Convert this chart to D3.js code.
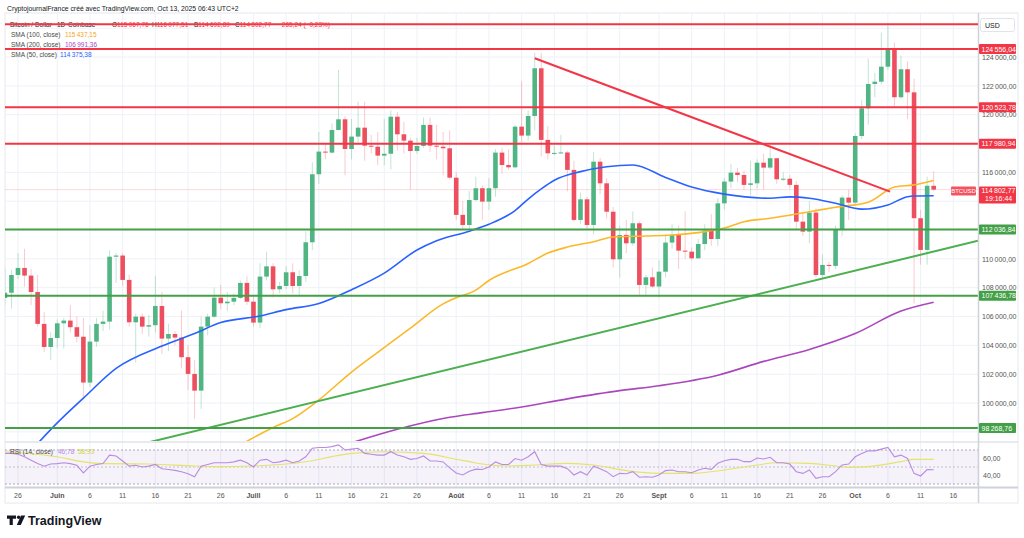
<!DOCTYPE html>
<html><head><meta charset="utf-8">
<script src="https://cdn.jsdelivr.net/npm/d3@7"></script>
<style>
body{margin:0;background:#fff;}
svg{display:block;font-family:"Liberation Sans",Arial,sans-serif;}
</style></head><body>
<svg id="c" width="1024" height="538"></svg>
<script>
// ---------------- DATA ----------------
const startDate = "2025-05-24";
const endDate = "2025-10-13";
const open = [107290,107650,108880,109370,108840,107700,105490,103890,104510,105530,105720,105260,104600,101420,104260,105490,105650,110150,110230,108540,105600,105990,105300,105400,106730,104470,104790,104540,103180,102020,100860,105300,105990,107310,106920,107030,107290,108330,107030,105580,108770,109480,107890,108120,109070,108120,108810,111150,115870,117440,117370,118940,119680,117620,118480,119100,117850,117780,117160,117290,119860,118640,118200,117480,117830,119290,117850,117780,117670,115630,113050,112350,114080,114900,113970,114900,117370,116510,116350,119170,118550,119910,123220,118250,117320,117350,117380,116170,112700,114130,112350,116740,115240,113270,109970,111660,111080,112470,108190,108720,108080,109110,111130,111660,110570,110500,110040,111030,111960,111380,113850,115360,115980,115820,115130,115240,116670,116330,116980,115520,115560,115130,112580,111890,113210,108880,109580,109510,112050,114250,113900,118520,120440,122130,122290,123330,124540,121210,123150,121550,112820,110620,115067.76];
const high = [109400,109250,110400,110690,109300,108900,106300,104900,105800,105900,106800,106000,105900,105400,105900,106400,110600,110400,110400,108900,106200,106200,106100,108800,107700,105500,105000,106400,104000,103000,106000,106200,108000,108200,107700,107600,108500,108800,107500,109700,110500,109700,108400,109500,109700,109200,111900,116700,118800,118000,119400,123100,119900,119700,120900,120900,118600,118800,119700,120300,120200,119500,118400,118400,119800,119800,119300,118800,118900,116000,114000,114700,115700,115100,115600,117600,117700,117600,119300,122300,120300,124300,124300,119200,117900,118600,117500,116800,114600,114300,117400,117000,115600,113600,112300,112700,113300,112600,108900,109400,109900,111700,112400,112300,113300,110800,111400,112400,113100,114200,115600,116600,116300,116100,116800,116900,117300,117900,117000,116000,115800,115400,113200,114000,113500,110300,109800,112300,114400,114800,118700,121000,123900,122900,125700,126200,125000,124100,123700,122500,113400,115700,116077.51];
const low = [106800,106550,108600,108070,106800,105300,103550,103000,103800,103800,104900,104200,100300,101100,103900,105000,105100,108330,108100,105300,102800,104800,104600,104900,103400,103600,104000,102400,100900,98900,99600,104700,105900,106500,106400,106800,107200,106800,105300,105200,108500,107300,107600,107900,107600,107500,108400,110600,115200,116900,117300,118900,115800,116900,117900,116800,117300,116500,116500,116200,117500,117300,114800,117300,117700,117400,116900,115800,115500,112700,112000,112000,114000,112700,113400,114300,115900,116200,116300,118100,118200,118900,117100,116900,117200,117300,114700,112600,112400,112100,111700,114500,112800,109400,108700,110400,110900,107500,107400,108000,107300,108700,110700,109300,110000,109900,110000,110600,110900,110900,113400,114900,115300,114800,114400,114900,114800,116200,115200,115400,114900,112000,111600,111100,108700,108600,109100,109300,111600,112700,113800,118300,119300,121200,122100,123100,120600,121100,119700,106900,109600,109600,114692.89];
const close = [107650,108880,109370,108840,107700,105490,103890,104510,105530,105720,105260,104600,101420,104260,105490,105650,110150,110230,108540,105600,105990,105300,105400,106730,104470,104790,104540,103180,102020,100860,105300,105990,107310,106920,107030,107290,108330,107030,105580,108770,109480,107890,108120,109070,108120,108810,111150,115870,117440,117370,118940,119680,117620,118480,119100,117850,117780,117160,117290,119860,118640,118200,117480,117830,119290,117850,117780,117670,115630,113050,112350,114080,114900,113970,114900,117370,116510,116350,119170,118550,119910,123220,118250,117320,117350,117380,116170,112700,114130,112350,116740,115240,113270,109970,111660,111080,112470,108190,108720,108080,109110,111130,111660,110570,110500,110040,111030,111960,111380,113850,115360,115980,115820,115130,115240,116670,116330,116980,115520,115560,115130,112580,111890,113210,108880,109580,109510,112050,114250,113900,118520,120440,122130,122290,123330,124540,121210,123150,121550,112820,110620,115068.01,114802.77];
const rsi = [66,66,65,62,58,54,51,53.5,54,55,54,52,43,51,53,54,64,63,57,51,52,50,51,53,48,47,46,44.5,42,38.6,51,53,55,55,55,56,58,55,50,58,59,55,56,58,55,57,62,72,73,73,74,76,70,71,72,66,65,64,64,68,64,62,59,60,63,57,57,56,49,43,40.6,45,47.5,47,50,56,53,53,60,58,62,68,53,51,51,51,48,40.6,44.5,40.6,51,48,44.5,38.6,42.5,42,44.5,38,38.6,38,40.6,45.7,46.5,44.5,44.5,43.3,46.5,48.5,47.3,54.3,57.4,59,59,56.3,56.3,60.6,59.4,61.4,55,55,53.5,44.5,42.5,46.5,36.7,38.6,38.6,44.5,52.4,53.5,62,66,69,69,71,73,62,64,60,42.5,39.4,47,46.78];
const rsiMA = [["2025-05-24",68],["2025-06-01",62],["2025-06-05",56],["2025-06-08",54],["2025-06-15",53.5],["2025-06-22",51.2],["2025-06-26",50.4],["2025-07-01",51.2],["2025-07-06",53.5],["2025-07-10",57.4],["2025-07-13",62.2],["2025-07-16",66],["2025-07-21",68],["2025-07-27",66],["2025-07-29",64],["2025-07-31",60.6],["2025-08-03",56.3],["2025-08-05",53.5],["2025-08-09",51.2],["2025-08-13",52.4],["2025-08-18",54.3],["2025-08-22",52.4],["2025-08-27",45.7],["2025-09-01",42.5],["2025-09-06",42.5],["2025-09-11",46.5],["2025-09-16",52.4],["2025-09-19",55],["2025-09-24",54.3],["2025-09-28",51.2],["2025-09-30",49.6],["2025-10-03",50.4],["2025-10-08",56.3],["2025-10-10",59],["2025-10-13",58.93]];
const sma50 = [["2025-05-28",96700],["2025-06-01",98620],["2025-06-05",100340],["2025-06-10",102400],["2025-06-17",103950],["2025-06-22",104820],["2025-06-26",105580],["2025-07-02",106040],["2025-07-06",106480],["2025-07-11",106900],["2025-07-16",107860],["2025-07-21",109010],["2025-07-26",110617],["2025-07-29",111262],["2025-08-03",111920],["2025-08-06",112400],["2025-08-10",113350],["2025-08-12",114150],["2025-08-14",114850],["2025-08-16",115450],["2025-08-20",116050],["2025-08-24",116394],["2025-08-28",116512],["2025-09-02",115650],["2025-09-06",114980],["2025-09-11",114490],["2025-09-18",114202],["2025-09-21",114300],["2025-09-24",114202],["2025-09-28",113856],["2025-10-02",113450],["2025-10-06",113740],["2025-10-09",114313],["2025-10-10",114362],["2025-10-13",114375.38]];
const sma100 = [["2025-06-29",97100],["2025-07-04",98300],["2025-07-07",98920],["2025-07-11",100215],["2025-07-16",102150],["2025-07-20",103520],["2025-07-25",105200],["2025-07-30",106880],["2025-08-01",107300],["2025-08-04",107830],["2025-08-06",108500],["2025-08-12",109680],["2025-08-15",110400],["2025-08-18",110820],["2025-08-22",111193],["2025-08-25",111520],["2025-08-30",111590],["2025-09-03",111660],["2025-09-07",111820],["2025-09-11",112140],["2025-09-14",112580],["2025-09-18",112815],["2025-09-24",113273],["2025-09-28",113578],["2025-10-03",113930],["2025-10-07",114980],["2025-10-10",115130],["2025-10-13",115437.15]];
const sma200 = [["2025-07-15",97100],["2025-07-23",98183],["2025-07-31",99015],["2025-08-05",99334],["2025-08-11",99730],["2025-08-18",100290],["2025-08-26",100860],["2025-09-01",101200],["2025-09-10",101930],["2025-09-17",102890],["2025-09-24",103720],["2025-10-01",104820],["2025-10-08",106380],["2025-10-13",106991.36]];
const redLevels = [126270, 124556.04, 120523.78, 117980.94];
const greenLevels = [112036.84, 107436.78, 98268.76];
const redTrend = [["2025-08-13", 123911], ["2025-10-06T08:00", 114660]];
const greenTrend = [["2025-06-26", 98490], ["2025-09-15", 107420]];
const priceTicks = [98000,100000,102000,104000,106000,108000,110000,112000,114000,116000,118000,120000,122000,124000];
const tickDates = ["2025-05-26","2025-06-01","2025-06-06","2025-06-11","2025-06-16","2025-06-21","2025-06-26","2025-07-01","2025-07-06","2025-07-11","2025-07-16","2025-07-21","2025-07-26","2025-08-01","2025-08-06","2025-08-11","2025-08-16","2025-08-21","2025-08-26","2025-09-01","2025-09-06","2025-09-11","2025-09-16","2025-09-21","2025-09-26","2025-10-01","2025-10-06","2025-10-11","2025-10-16"];
const tickLabels = ["26","Juin","6","11","16","21","26","Juill","6","11","16","21","26","Août","6","11","16","21","26","Sept","6","11","16","21","26","Oct","6","11","16"];
const lastPrice = 114802.77;

// ---------------- SETUP ----------------
const svg = d3.select("#c");
const L = 5, R = 978, T = 13, MB = 441, RT = 443, RB = 487, AB = 503;
const x = d3.scaleUtc().domain([new Date("2025-05-26"), new Date("2025-10-16")]).range([18, 953.3]);
const y = d3.scaleLinear().domain([98268.76, 124556.04]).range([428, 49]);
const yr = d3.scaleLinear().domain([30, 70]).range([484, 450]);
const loc = d3.formatLocale({decimal:",", thousands:"\u2009", grouping:[3], currency:["",""]});
const f2 = loc.format(",.2f");
const dates = d3.utcDay.range(new Date(startDate), d3.utcDay.offset(new Date(endDate), 1));
const pd = s => new Date(s.length > 10 ? s + "Z" : s);

const UP = "#50b483", DN = "#ee4f5f", UPW = "rgba(80,180,131,0.35)", DNW = "rgba(238,79,95,0.3)";
const RED = "#f23645", GREEN = "#43a047", GRID = "#eef1f6";

const defs = svg.append("defs");
defs.append("clipPath").attr("id","cm").append("rect").attr("x",L).attr("y",T).attr("width",R-L).attr("height",MB-T);
defs.append("clipPath").attr("id","cr").append("rect").attr("x",L).attr("y",RT).attr("width",R-L).attr("height",RB-RT);

// frame
svg.append("rect").attr("x",L).attr("y",T).attr("width",1018-L).attr("height",AB-T).attr("fill","#fff").attr("stroke","#e6e8ee").attr("stroke-width",1);

// grid
const gGrid = svg.append("g");
gGrid.selectAll("line.v").data(tickDates).join("line")
  .attr("x1", d=>x(pd(d))).attr("x2", d=>x(pd(d))).attr("y1",T).attr("y2",RB)
  .attr("stroke",GRID).attr("stroke-width",1);
gGrid.selectAll("line.h").data(priceTicks.concat([126000])).join("line")
  .attr("x1",L).attr("x2",R).attr("y1",d=>y(d)).attr("y2",d=>y(d))
  .attr("stroke",GRID).attr("stroke-width",1);

const main = svg.append("g").attr("clip-path","url(#cm)");

// current price line
main.append("line").attr("x1",L).attr("x2",R).attr("y1",y(lastPrice)).attr("y2",y(lastPrice))
  .attr("stroke","rgba(242,54,69,0.18)").attr("stroke-width",1);

// candles
const cw = 4.6;
const cg = main.append("g");
dates.forEach((d,i)=>{
  const up = close[i] >= open[i];
  const cx = x(d);
  cg.append("line").attr("x1",cx).attr("x2",cx).attr("y1",y(high[i])).attr("y2",y(low[i]))
    .attr("stroke", up?UPW:DNW).attr("stroke-width",1);
  const y0 = y(Math.max(open[i],close[i])), y1 = y(Math.min(open[i],close[i]));
  cg.append("rect").attr("x",cx-cw/2).attr("y",y0).attr("width",cw).attr("height",Math.max(1,y1-y0))
    .attr("fill", up?UP:DN);
});

// SMAs
const line = d3.line().x(d=>x(pd(d[0]))).y(d=>y(d[1])).curve(d3.curveMonotoneX);
main.append("path").attr("d",line(sma200)).attr("fill","none").attr("stroke","#ab47bc").attr("stroke-width",1.6);
main.append("path").attr("d",line(sma100)).attr("fill","none").attr("stroke","#fbb829").attr("stroke-width",1.6);
main.append("path").attr("d",line(sma50)).attr("fill","none").attr("stroke","#2962ff").attr("stroke-width",1.6);

// trend lines
main.append("line").attr("x1",x(pd(redTrend[0][0]))).attr("y1",y(redTrend[0][1]))
  .attr("x2",x(pd(redTrend[1][0]))).attr("y2",y(redTrend[1][1]))
  .attr("stroke",RED).attr("stroke-width",2);
{
  const x1 = x(pd(greenTrend[0][0])), y1 = y(greenTrend[0][1]);
  const x2 = x(pd(greenTrend[1][0])), y2 = y(greenTrend[1][1]);
  const s = (y2-y1)/(x2-x1);
  main.append("line").attr("x1",L).attr("y1",y1+s*(L-x1)).attr("x2",R).attr("y2",y1+s*(R-x1))
    .attr("stroke","#4caf50").attr("stroke-width",2);
}

// horizontal levels
main.selectAll("line.rl").data(redLevels.slice(2)).join("line")
  .attr("x1",L).attr("x2",R).attr("y1",d=>y(d)).attr("y2",d=>y(d)).attr("stroke",RED).attr("stroke-width",2);
main.selectAll("line.gl").data(greenLevels).join("line")
  .attr("x1",L).attr("x2",R).attr("y1",d=>y(d)).attr("y2",d=>y(d)).attr("stroke",GREEN).attr("stroke-width",2);

// pane separators
svg.append("line").attr("x1",L).attr("x2",1018).attr("y1",442).attr("y2",442).attr("stroke","#e0e3eb").attr("stroke-width",1.5);
svg.append("line").attr("x1",L).attr("x2",1018).attr("y1",RB+0.5).attr("y2",RB+0.5).attr("stroke","#cfd2da").attr("stroke-width",2);
svg.append("line").attr("x1",R+0.5).attr("x2",R+0.5).attr("y1",T).attr("y2",AB).attr("stroke","#cfd2da").attr("stroke-width",1.5);

// RSI pane
const rg = svg.append("g").attr("clip-path","url(#cr)");
rg.append("rect").attr("x",L).attr("y",yr(70)).attr("width",R-L).attr("height",yr(30)-yr(70)).attr("fill","rgba(126,87,194,0.08)");
rg.selectAll("line.d").data([70,50,30]).join("line")
  .attr("x1",L).attr("x2",R).attr("y1",d=>yr(d)).attr("y2",d=>yr(d))
  .attr("stroke",d=>d===50?"#b8b4c8":"#9a96a8").attr("stroke-width",0.8).attr("stroke-dasharray","2,2");
const rline = d3.line().x((d,i)=>x(dates[i])).y(d=>yr(d));
rg.append("path").attr("d",d3.line().x(d=>x(pd(d[0]))).y(d=>yr(d[1])).curve(d3.curveMonotoneX)(rsiMA))
  .attr("fill","none").attr("stroke","#e4e36a").attr("stroke-width",1.1);
rg.append("path").attr("d",rline(rsi)).attr("fill","none").attr("stroke","#b98be2").attr("stroke-width",1.1);

// right axis ticks (skip those hidden behind price labels)
const tagged = redLevels.slice(1).concat(greenLevels, [lastPrice, lastPrice - 550]);
const visTicks = priceTicks.filter(p => tagged.every(q => Math.abs(y(p) - y(q)) > 7));
const ax = svg.append("g").attr("font-size",7).attr("fill","#555");
ax.selectAll("text.p").data(visTicks).join("text")
  .attr("x",982).attr("y",d=>y(d)+2.8).text(d=>f2(d));
ax.selectAll("text.r").data([60,40]).join("text")
  .attr("x",983).attr("y",d=>yr(d)+2.5).text(d=>f2(d));

// time axis
svg.append("g").attr("font-size",7).attr("fill","#555").selectAll("text").data(tickDates).join("text")
  .attr("x",d=>x(pd(d))).attr("y",497.5).attr("text-anchor","middle")
  .attr("font-weight",(d,i)=>isNaN(+tickLabels[i])?"bold":"normal")
  .text((d,i)=>tickLabels[i]);

// level labels
function tag(p, color, txt){
  const g = svg.append("g");
  g.append("rect").attr("x",979).attr("y",y(p)-5).attr("width",37).attr("height",10).attr("rx",1).attr("fill",color);
  g.append("text").attr("x",981.5).attr("y",y(p)+2.5).attr("font-size",7).attr("fill","#fff").text(txt);
}
redLevels.slice(1).forEach(p=>tag(p, RED, f2(p)));
greenLevels.forEach(p=>tag(p, GREEN, f2(p)));
// current price
{
  const yp = y(lastPrice);
  svg.append("rect").attr("x",979).attr("y",yp-3).attr("width",37).attr("height",17).attr("rx",1).attr("fill",RED);
  svg.append("text").attr("x",981.5).attr("y",yp+3.5).attr("font-size",7).attr("fill","#fff").text(f2(lastPrice));
  svg.append("text").attr("x",985).attr("y",yp+11.5).attr("font-size",7).attr("fill","#fff").text("19:16:44");
  svg.append("rect").attr("x",951).attr("y",yp-3).attr("width",25).attr("height",9).attr("rx",1).attr("fill","rgba(242,54,69,0.85)");
  svg.append("text").attr("x",963.5).attr("y",yp+3.5).attr("font-size",6).attr("fill","#fff").attr("text-anchor","middle").text("BTCUSD");
}
// USD box
svg.append("rect").attr("x",980.5).attr("y",18.5).attr("width",34).attr("height",13).attr("rx",2).attr("fill","#fff").attr("stroke","#e0e3eb");
svg.append("text").attr("x",985).attr("y",27.5).attr("font-size",7).attr("fill","#131722").text("USD");

// header
svg.append("text").attr("x",7).attr("y",10.5).attr("font-size",6.8).attr("fill","#131722")
  .text("CryptojournalFrance créé avec TradingView.com, Oct 13, 2025 06:43 UTC+2");
const h2 = svg.append("text").attr("y",26.5).attr("font-size",6.5).attr("fill","#131722");
h2.append("tspan").attr("x",10).text("Bitcoin / Dollar");
h2.append("tspan").attr("x",53).text("· 1D ·");
h2.append("tspan").attr("x",68).text("Coinbase");
[["O","115\u2009067,76",112],["H","116\u2009077,51",152],["B","114\u2009692,89",194],["C","114\u2009802,77",235]].forEach(([k,v,px])=>{
  h2.append("tspan").attr("x",px).text(k);
  h2.append("tspan").attr("fill",RED).text(v);
});
h2.append("tspan").attr("x",278).attr("fill",RED).text("−265,24 (−0,23%)");
[["SMA (100, close)","115\u2009437,15","#f5a623",37,65],["SMA (200, close)","106\u2009991,36","#ab47bc",47,65],["SMA (50, close)","114\u2009375,38","#2962ff",57,60]].forEach(([a,b,c,yy,vx])=>{
  const t = svg.append("text").attr("y",yy).attr("font-size",6.5).attr("fill","#4a4a4a");
  t.append("tspan").attr("x",11).text(a);
  t.append("tspan").attr("x",vx).attr("fill",c).text(b);
});
// top red levels drawn over the header legend (strike through)
svg.selectAll("line.top").data(redLevels.slice(0,2)).join("line")
  .attr("x1",L).attr("x2",R).attr("y1",d=>y(d)).attr("y2",d=>y(d)).attr("stroke",RED).attr("stroke-width",2);

// RSI legend
const rt = svg.append("text").attr("y",454).attr("font-size",6.5).attr("fill","#4a4a4a");
rt.append("tspan").attr("x",10).text("RSI (14, close)");
rt.append("tspan").attr("x",58).attr("fill","#b98be2").text("46,78");
rt.append("tspan").attr("x",78).attr("fill","#d6d43c").text("58,93");

// TradingView logo
const lg = svg.append("g").attr("fill","#131722");
lg.append("path").attr("d","M7 515.5h9v3.2h-3.2v6.3h-3.2v-6.3h-2.6z");
lg.append("circle").attr("cx",18.6).attr("cy",517.2).attr("r",1.7);
lg.append("path").attr("d","M21 515.5h4.2l-4.4 9.5h-4z");
svg.append("text").attr("x",28).attr("y",525).attr("font-size",12.5).attr("font-weight","bold").attr("fill","#131722").text("TradingView");
</script>
</body></html>
